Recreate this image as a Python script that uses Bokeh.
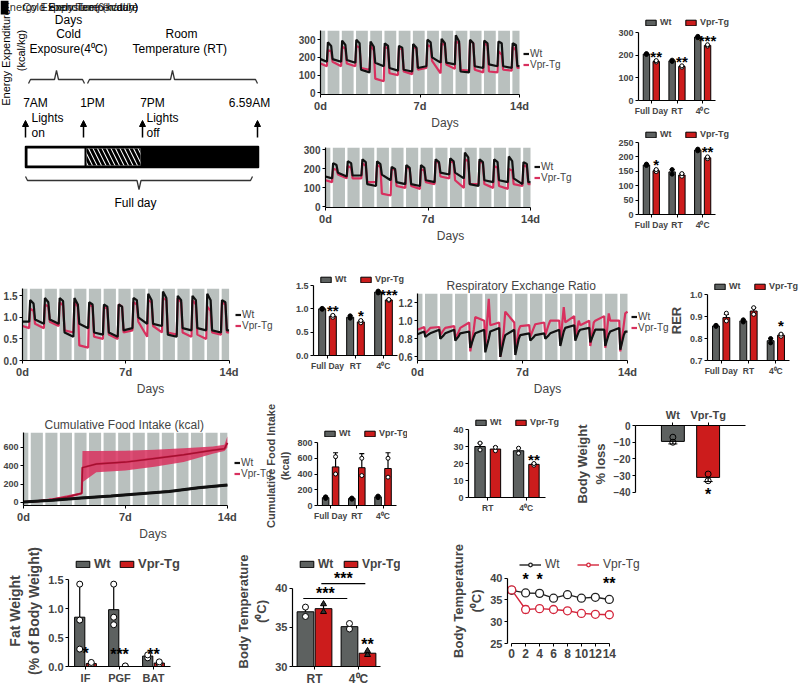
import numpy as np
from bokeh.plotting import figure
from bokeh.models import (ColumnDataSource, FactorRange, Range1d, Legend, LegendItem,
                          Whisker, TeeHead, Arrow, NormalHead, InlineStyleSheet,
                          PrintfTickFormatter)
from bokeh.transform import dodge
from bokeh.core.properties import value
from bokeh.embed import file_html
from bokeh.resources import INLINE

FONT = "Liberation Sans"
GRAY = "#5d6160"
RED = "#cc1c1c"
TSRED = "#d8305e"
BAND = "#b9c0be"
C4 = "4\u2070C"

# ---------------- data ----------------
DAYS = list(range(14))
PHASES = [0.45, 0.52, 0.75, 0.85]          # pre-rise, peak, late-dark, back to baseline
T = [0.0] + [d + f for d in DAYS for f in PHASES] + [14.0]

ee1_wt = [190,
          175, 285, 265, 190, 175, 295, 270, 185, 170, 300, 280, 130, 115, 290, 260, 170,
          150, 280, 265, 140, 125, 265, 255, 130, 120, 275, 255, 140, 150, 300, 285, 200,
          170, 305, 280, 170, 160, 325, 290, 120, 115, 300, 280, 150, 140, 295, 280, 160,
          150, 290, 280, 150, 140, 280, 270, 150,
          150]
ee1_vpr = [165,
           150, 240, 235, 175, 150, 260, 250, 165, 150, 265, 255, 140, 130, 270, 240, 80,
           65, 260, 250, 110, 100, 255, 245, 120, 105, 260, 250, 130, 140, 270, 260, 180,
           110, 280, 270, 160, 135, 290, 280, 130, 125, 295, 280, 130, 115, 285, 265, 120,
           115, 235, 215, 130, 125, 260, 240, 140,
           140]
ee2_wt = [160,
          150, 230, 220, 180, 160, 240, 230, 165, 165, 250, 235, 120, 110, 240, 225, 170,
          140, 210, 200, 130, 120, 220, 205, 120, 110, 220, 205, 140, 130, 250, 235, 180,
          170, 255, 240, 180, 150, 285, 260, 120, 110, 250, 235, 140, 130, 250, 235, 140,
          130, 265, 240, 150, 120, 235, 225, 130,
          130]
ee2_vpr = [140,
           130, 200, 195, 170, 150, 215, 205, 150, 150, 230, 215, 130, 130, 220, 210, 70,
           60, 200, 195, 110, 100, 210, 200, 110, 95, 200, 190, 130, 120, 240, 230, 160,
           150, 245, 230, 140, 100, 250, 240, 120, 120, 240, 230, 120, 100, 215, 205, 110,
           95, 200, 190, 120, 110, 220, 210, 120,
           120]
ee3_wt = [0.9,
          0.9, 1.4, 1.32, 0.95, 0.85, 1.45, 1.35, 0.95, 0.85, 1.45, 1.38, 0.65, 0.55, 1.45, 1.3, 0.85,
          0.75, 1.35, 1.3, 0.65, 0.6, 1.3, 1.25, 0.65, 0.55, 1.3, 1.25, 0.7, 0.75, 1.45, 1.4, 1.0,
          0.85, 1.55, 1.4, 0.85, 0.8, 1.6, 1.45, 0.6, 0.55, 1.5, 1.4, 0.75, 0.7, 1.5, 1.4, 0.75,
          0.7, 1.55, 1.4, 0.7, 0.65, 1.4, 1.35, 0.7,
          0.7]
ee3_vpr = [0.8,
           0.75, 1.2, 1.15, 0.85, 0.75, 1.3, 1.25, 0.9, 0.8, 1.35, 1.28, 0.7, 0.65, 1.35, 1.25, 0.35,
           0.3, 1.3, 1.25, 0.55, 0.5, 1.25, 1.2, 0.6, 0.5, 1.3, 1.25, 0.65, 0.7, 1.35, 1.3, 0.9,
           0.55, 1.4, 1.35, 0.8, 0.65, 1.45, 1.4, 0.65, 0.6, 1.45, 1.35, 0.65, 0.55, 1.4, 1.3, 0.6,
           0.5, 1.25, 1.15, 0.65, 0.6, 1.35, 1.3, 0.65,
           0.65]
rer_wt = [0.85,
          0.88, 0.82, 0.85, 0.86, 0.90, 0.80, 0.84, 0.86, 0.90, 0.78, 0.83, 0.86, 0.88, 0.70, 0.82, 0.86,
          0.90, 0.65, 0.80, 0.88, 0.92, 0.60, 0.78, 0.84, 0.90, 0.62, 0.80, 0.84, 0.86, 0.78, 0.82, 0.84,
          0.86, 0.80, 0.84, 0.86, 0.90, 0.72, 0.88, 0.92, 0.95, 0.78, 0.88, 0.90, 0.92, 0.76, 0.86, 0.90,
          0.90, 0.72, 0.85, 0.88, 0.92, 0.68, 0.84, 0.88,
          0.88]
rer_vpr = [0.90,
           0.93, 0.86, 0.90, 0.92, 0.93, 0.84, 0.90, 0.92, 0.94, 0.80, 0.88, 0.92, 0.98, 0.66, 0.90, 1.04,
           1.00, 0.70, 1.24, 0.95, 0.98, 0.60, 0.88, 1.10, 0.98, 0.66, 0.90, 0.94, 0.95, 0.82, 0.92, 0.96,
           0.98, 0.84, 0.96, 1.00, 1.00, 0.74, 1.15, 0.98, 1.05, 0.80, 1.00, 0.95, 1.00, 0.72, 0.98, 1.00,
           1.05, 0.70, 1.08, 1.00, 1.00, 0.66, 0.95, 1.08,
           1.10]

food_t_wt = [0, 2, 4, 6, 8, 10, 12, 14]
food_wt = [5, 25, 50, 70, 95, 120, 160, 190]
food_t_vpr = [0, 1, 2, 3, 4.0, 4.05, 5, 7, 9, 11, 13, 13.8, 14]
food_vpr = [5, 15, 35, 60, 100, 380, 420, 440, 480, 520, 570, 585, 650]
food_vpr_hi = [8, 20, 45, 80, 110, 560, 560, 565, 575, 590, 610, 630, 720]
food_vpr_lo = [2, 10, 25, 45, 90, 220, 330, 350, 390, 440, 530, 560, 600]

CATS3 = ["Full Day", "RT", C4]
bar1_wt = [205, 175, 280]; bar1_vpr = [172, 150, 243]
bar1_wt_err = [3, 4, 3]; bar1_vpr_err = [4, 4, 3]
bar1_wt_pts = [[203, 207], [172, 178], [277, 283]]
bar1_vpr_pts = [[170, 176], [147, 153], [240, 246]]
bar1_stars = ["**", "**", "***"]

bar2_wt = [172, 148, 224]; bar2_vpr = [152, 137, 197]
bar2_wt_err = [3, 8, 3]; bar2_vpr_err = [4, 5, 3]
bar2_wt_pts = [[170, 175], [140, 156], [221, 227]]
bar2_vpr_pts = [[149, 156], [133, 142], [194, 200]]
bar2_stars = ["*", "", "**"]

bar3_wt = [1.0, 0.82, 1.36]; bar3_vpr = [0.84, 0.72, 1.19]
bar3_wt_err = [0.02, 0.03, 0.02]; bar3_vpr_err = [0.02, 0.03, 0.01]
bar3_wt_pts = [[0.99, 1.01], [0.80, 0.85], [1.34, 1.38]]
bar3_vpr_pts = [[0.82, 0.86], [0.70, 0.75], [1.18, 1.20]]
bar3_stars = ["**", "*", "***"]

rer_bar_wt = [0.857, 0.88, 0.79]; rer_bar_vpr = [0.895, 0.925, 0.815]
rer_bar_wt_err = [0.004, 0.005, 0.01]; rer_bar_vpr_err = [0.015, 0.015, 0.005]
rer_bar_wt_pts = [[0.855, 0.86], [0.875, 0.885], [0.78, 0.80]]
rer_bar_vpr_pts = [[0.88, 0.915], [0.91, 0.94], [0.81, 0.82]]
rer_bar_stars = ["", "", "*"]

food_bar_wt = [100, 90, 110]; food_bar_vpr = [490, 480, 470]
food_bar_wt_err = [15, 10, 15]; food_bar_vpr_err = [180, 180, 200]
food_bar_wt_pts = [[90, 110], [80, 95], [100, 120]]
food_bar_vpr_pts = [[400, 620], [380, 600], [360, 600]]

CATS2 = ["RT", C4]
bw_wt = [30, 27.5]; bw_vpr = [28.5, 19.5]
bw_wt_err = [2, 1.5]; bw_vpr_err = [1.5, 0.5]
bw_wt_pts = [[28, 32], [26, 29]]
bw_vpr_pts = [[27.5, 29.5], [19, 20]]
bw_stars = ["", "**"]

LOSS_CATS = ["Wt", "Vpr-Tg"]
loss_vals = [-9.5, -31]
loss_err = [1.5, 2.5]
loss_pts = [[-7, -10], [-29, -33]]
loss_stars = ["", "*"]

FAT_CATS = ["IF", "PGF", "BAT"]
fat_wt = [0.85, 0.98, 0.18]; fat_vpr = [0.05, 0.0, 0.06]
fat_wt_err = [0.55, 0.42, 0.04]; fat_vpr_err = [0.02, 0.005, 0.02]
fat_wt_pts = [[1.42, 0.3, 0.8], [1.42, 0.72, 0.85], [0.15, 0.2]]
fat_vpr_pts = [[0.04, 0.07], [0.0, 0.01], [0.05, 0.08]]
fat_stars = ["*", "***", "**"]
fat_star_y = [0.22, 0.2, 0.2]

bt_wt = [37.0, 35.1]; bt_vpr = [37.4, 31.7]
bt_wt_err = [0.5, 0.4]; bt_vpr_err = [0.6, 0.25]
bt_wt_pts = [[36.4, 37.6], [34.8, 35.5]]
bt_vpr_pts = [[37.0, 38.0], [31.5, 32.0]]
bt_stars = ["", "**"]
bt_bracket_y = [38.7, 40.6]
bt_bracket_stars = ["***", "***"]

bt_day = [0, 2, 4, 6, 8, 10, 12, 14]
bt_line_wt = [37.2, 36.6, 36.5, 35.4, 36.2, 35.4, 35.6, 35.1]
bt_line_wt_err = [0.2, 0.5, 0.6, 0.2, 0.3, 0.2, 0.2, 0.3]
bt_line_vpr = [37.3, 32.8, 33.0, 32.8, 32.5, 31.9, 31.7, 31.6]
bt_line_vpr_err = [0.2, 0.8, 0.3, 0.3, 0.5, 0.3, 0.2, 0.3]
bt_line_stars = ["*", "*", "**"]
bt_line_star_days = [2, 4, 14]
bt_line_star_y = [39.6, 39.6, 38.8]

# light-cycle background columns
BAND_L = [0.0] + [d + 0.5 for d in DAYS]
BAND_R = [0.33] + [min(d + 1.33, 14.0) for d in DAYS]


# ---------------- helpers ----------------
def place(p, left, top):
    css = (":host { position: absolute !important; left: %dpx !important; top: %dpx !important; }"
           % (left, top))
    p.stylesheets = [InlineStyleSheet(css=css)]
    return p


def base_fig(box, borders, xr, yr, **kw):
    left, top, w, h = box
    bl, br, bt, bb = borders
    p = figure(width=w, height=h, x_range=xr, y_range=yr, output_backend="svg",
               toolbar_location=None, min_border_left=bl, min_border_right=br,
               min_border_top=bt, min_border_bottom=bb, **kw)
    p.outline_line_color = None
    p.grid.visible = False
    p.border_fill_color = None
    p.background_fill_color = None
    place(p, left, top)
    return p


def style_axes(p, tick_fs="9px", label_fs="11px", label_style="bold"):
    for ax in p.axis:
        ax.axis_line_color = "black"
        ax.axis_line_width = 1.2
        ax.major_tick_line_color = "black"
        ax.major_tick_out = 3
        ax.major_tick_in = 0
        ax.minor_tick_line_color = None
        ax.major_label_text_font = FONT
        ax.major_label_text_font_size = tick_fs
        ax.major_label_text_font_style = "bold"
        ax.major_label_standoff = 2
        ax.axis_label_text_font = FONT
        ax.axis_label_text_font_size = label_fs
        ax.axis_label_text_font_style = label_style
        ax.axis_label_standoff = 3


def make_legend(items, loc, orientation, gw, gh, fs, bold, spacing, standoff):
    return Legend(items=[LegendItem(label=lab, renderers=r) for lab, r in items],
                  location=loc, orientation=orientation, glyph_width=gw, glyph_height=gh,
                  label_standoff=standoff, label_height=gh, spacing=spacing, padding=0, margin=0,
                  border_line_color=None, background_fill_alpha=0,
                  label_text_font=FONT, label_text_font_size=fs,
                  label_text_font_style="bold" if bold else "normal")


def ts_panel(box, borders, yr, yticks, t_wt, wt, t_vpr, vpr, title=None, ytick_fs="10px",
             leg_w=50, yfmt=None, title_w=0):
    left, top, w, h = box
    bl, br, bt, bb = borders
    fw, fh = w - bl - br, h - bt - bb
    # the frame is widened to the right to hold the legend; the axis stays bounded at 14 d
    p = base_fig(box, (bl, br - leg_w, bt, bb), Range1d(0, 14.0 * (fw + leg_w) / fw), Range1d(*yr))
    p.quad(left=BAND_L, right=BAND_R, bottom=yr[0], top=yr[1], fill_color=BAND, line_color=None)
    rv = p.line(t_vpr, vpr, line_color=TSRED, line_width=2.2)
    rw = p.line(t_wt, wt, line_color="#111111", line_width=2.2)
    p.xaxis.ticker = [0, 7, 14]
    p.xaxis.bounds = (0, 14)
    p.xaxis.major_label_overrides = {0: "0d", 7: "7d", 14: "14d"}
    p.yaxis.ticker = yticks
    if yfmt:
        p.yaxis.formatter = PrintfTickFormatter(format=yfmt)
    p.xaxis.axis_label = "Days"
    style_axes(p, tick_fs=ytick_fs, label_fs="12px", label_style="normal")
    p.xaxis.major_label_text_font_size = "11px"
    p.xaxis.axis_label_standoff = 1
    p.add_layout(make_legend([("Wt", [rw]), ("Vpr-Tg", [rv])], (fw + 4, fh / 2 - 10),
                             "vertical", 6, 9, "10px", False, 0, 1), "center")
    if title:
        p.title.text = title
        p.title.align = "left"
        p.title.offset = (fw - title_w) / 2
        p.title.text_font = FONT
        p.title.text_font_size = "12px"
        p.title.text_font_style = "normal"
        p.title.standoff = 2
    return p


def bar_panel(box, borders, cats, wt, vpr, wt_err, vpr_err, wt_pts, vpr_pts,
              yr, yticks, off, bw, stars=None, star_dy=0.0, ylabel=None, tick_fs="9px",
              cat_fs="8.5px", label_fs="11px", legend_fs="9px", glyph_w=13, glyph_h=7,
              ybounds=None, wt_dot="circle", wt_dot_fill="black", vpr_dot="circle",
              vpr_dot_fill="white", dot_size=4, bar_bottom=0, star_fs="15px",
              leg_dx=6, leg_dy=2, leg_room=14, yfmt=None, ext=12):
    left, top, w, h = box
    bl, br, bt, bb = borders
    fw, fh = w - bl - br, h - bt - bb
    n = len(cats)
    xs = [i + 0.5 for i in range(n)]          # category slots on the numeric scale
    # frame enlarged (up and right) to hold the legend; axes stay bounded to the data part
    y_end = yr[1] + leg_room * (yr[1] - yr[0]) / fh
    p = base_fig(box, (bl, br - ext, bt - leg_room, bb),
                 Range1d(0, n * (fw + ext) / fw), Range1d(yr[0], y_end))
    src = ColumnDataSource(dict(
        x=xs, wt=wt, vpr=vpr,
        wlo=[a - e for a, e in zip(wt, wt_err)], whi=[a + e for a, e in zip(wt, wt_err)],
        vlo=[a - e for a, e in zip(vpr, vpr_err)], vhi=[a + e for a, e in zip(vpr, vpr_err)]))
    rw = p.vbar(x=dodge("x", -off), top="wt", bottom=bar_bottom, width=bw,
                source=src, fill_color=GRAY, line_color="black", line_width=1)
    rv = p.vbar(x=dodge("x", off), top="vpr", bottom=bar_bottom, width=bw,
                source=src, fill_color=RED, line_color="black", line_width=1)
    for o, lo, hi in ((-off, "wlo", "whi"), (off, "vlo", "vhi")):
        p.add_layout(Whisker(base=dodge("x", o), lower=lo, upper=hi, source=src,
                             line_color="black", line_width=1.2,
                             upper_head=TeeHead(size=5, line_color="black", line_width=1.2),
                             lower_head=TeeHead(size=5, line_color="black", line_width=1.2)))
    for pts, o, mk, fill in ((wt_pts, -off, wt_dot, wt_dot_fill), (vpr_pts, off, vpr_dot, vpr_dot_fill)):
        px = [xs[i] for i, ps in enumerate(pts) for _ in ps]
        pv = [v for ps in pts for v in ps]
        p.scatter(x=dodge("x", o), y="v", source=ColumnDataSource(dict(x=px, v=pv)),
                  marker=mk, size=dot_size, fill_color=fill, line_color="black", line_width=1)
    if stars:
        sy = [max(hi_, max(ps)) + star_dy for hi_, ps in
              zip([a + e for a, e in zip(vpr, vpr_err)], vpr_pts)]
        p.text(x=dodge("x", off), y="sy", text="st",
               source=ColumnDataSource(dict(x=xs, sy=sy, st=stars)),
               text_font=value(FONT), text_font_size=star_fs, text_font_style="bold",
               text_align="center", text_baseline="middle", text_color="black")
    p.xaxis.ticker = xs
    p.xaxis.major_label_overrides = {x: c for x, c in zip(xs, cats)}
    p.xaxis.bounds = (0, n)
    p.yaxis.ticker = yticks
    p.yaxis.bounds = ybounds if ybounds else (yr[0], yr[1])
    if yfmt:
        p.yaxis.formatter = PrintfTickFormatter(format=yfmt)
    style_axes(p, tick_fs=tick_fs, label_fs=label_fs)
    p.xaxis.major_label_text_font_size = cat_fs
    p.xaxis.major_label_text_font_style = "bold"
    if ylabel:
        p.yaxis.axis_label = ylabel
    p.add_layout(make_legend([("Wt", [rw]), ("Vpr-Tg", [rv])], (leg_dx, fh + leg_dy), "horizontal",
                             glyph_w, glyph_h, legend_fs, True, 4, 3), "center")
    return p, xs


# ---------------- schematic (top-left) ----------------
def schematic():
    p = figure(width=270, height=245, x_range=Range1d(0, 270), y_range=Range1d(245, 0),
               output_backend="svg", toolbar_location=None, x_axis_type=None, y_axis_type=None,
               min_border_left=0, min_border_right=0, min_border_top=0, min_border_bottom=0)
    p.outline_line_color = None
    p.grid.visible = False
    p.border_fill_color = None
    p.background_fill_color = None
    place(p, 0, 0)
    # overlapping stray labels
    p.quad(left=0, right=8, top=0, bottom=14, fill_color="black", line_color=None)
    p.text(x=[2, 22, 48], y=[6, 6, 6],
           text=["Energy Expenditure (kcal/h)", "Cold Exposure(6 h/day)", "Body Temperature"],
           text_font=value(FONT), text_font_size="11px", text_baseline="middle", text_alpha=0.85)
    p.text(x=[68], y=[19], text=["Days"], text_font=value(FONT), text_font_size="12px",
           text_align="center", text_baseline="middle")
    p.text(x=[5, 20], y=[57, 50], text=["Energy Expenditure", "(kcal/kg)"], angle=np.pi / 2,
           text_font=value(FONT), text_font_size="11px", text_align="center", text_baseline="middle")
    # labels
    p.text(x=[68, 68, 181, 181], y=[33, 48, 33, 48],
           text=["Cold", "Exposure(" + C4 + ")", "Room", "Temperature  (RT)"],
           text_font=value(FONT), text_font_size="12px", text_align="center", text_baseline="middle")
    p.text(x=[35, 92, 152, 249], y=[102, 102, 102, 102], text=["7AM", "1PM", "7PM", "6.59AM"],
           text_font=value(FONT), text_font_size="12px", text_align="center", text_baseline="middle")
    p.text(x=[31, 31, 146, 146], y=[117, 132, 117, 132], text=["Lights", "on", "Lights", "off"],
           text_font=value(FONT), text_font_size="12px", text_baseline="middle")
    p.text(x=[135], y=[202], text=["Full day"], text_font=value(FONT), text_font_size="12px",
           text_align="center", text_baseline="middle")

    def brace(x0, x1, yb, d):
        xc = (x0 + x1) / 2
        return ([x0, x0 + 2, xc - 2, xc, xc + 2, x1 - 2, x1],
                [yb + 4 * d, yb, yb, yb - 9 * d, yb, yb, yb + 4 * d])
    b1, b2, b3 = brace(28, 84, 79, 1), brace(87, 257, 79, 1), brace(25, 252, 180, -1)
    p.multi_line(xs=[b1[0], b2[0], b3[0]], ys=[b1[1], b2[1], b3[1]], line_color="#333333",
                 line_width=1.3)
    for xa in (25, 83, 142, 257):
        p.add_layout(Arrow(x_start=xa, y_start=137, x_end=xa, y_end=120, line_width=1.5,
                           end=NormalHead(size=6, fill_color="black", line_color="black")))
    p.quad(left=25, right=258, top=146, bottom=167, fill_color="black", line_color="black",
           line_width=1.5)
    p.quad(left=27, right=84, top=148, bottom=165, fill_color="white", line_color=None)
    p.quad(left=86, right=140, top=148, bottom=165, fill_color="white", line_color=None,
           hatch_pattern="\\", hatch_color="black", hatch_scale=9, hatch_weight=3)
    return p


# ---------------- panels ----------------
schem = schematic()
ts1 = ts_panel((270, 0, 305, 132), (50, 56, 30, 33), (-10, 352), [0, 100, 200, 300],
               T, ee1_wt, T, ee1_vpr)
ts2 = ts_panel((270, 132, 305, 113), (55, 45, 15, 29), (-3, 312), [0, 100, 200, 300],
               T, ee2_wt, T, ee2_vpr, leg_w=45)
bar1, _ = bar_panel((575, 0, 223, 125), (63, 83, 32, 25), CATS3, bar1_wt, bar1_vpr, bar1_wt_err,
                    bar1_vpr_err, bar1_wt_pts, bar1_vpr_pts, (0, 300), [0, 100, 200, 300], 0.19,
                    0.25, stars=bar1_stars, star_dy=18, leg_dy=5, leg_room=18, ext=18)
bar2, _ = bar_panel((575, 125, 223, 120), (63, 83, 17, 31), CATS3, bar2_wt, bar2_vpr, bar2_wt_err,
                    bar2_vpr_err, bar2_wt_pts, bar2_vpr_pts, (0, 250), [0, 50, 100, 150, 200, 250],
                    0.19, 0.25, stars=bar2_stars, star_dy=18, leg_dy=3, leg_room=15, ext=18)

ts3 = ts_panel((0, 245, 290, 153), (19, 62, 43, 32), (0, 1.67), [0, 0.5, 1.0, 1.5],
               T, ee3_wt, T, ee3_vpr, yfmt="%.1f")
bar3, _ = bar_panel((290, 245, 120, 153), (23, 13, 40, 43), CATS3, bar3_wt, bar3_vpr, bar3_wt_err,
                    bar3_vpr_err, bar3_wt_pts, bar3_vpr_pts, (0, 1.5), [0, 0.5, 1.0, 1.5], 0.19,
                    0.25, stars=bar3_stars, star_dy=0.1, leg_dy=1, leg_room=13, yfmt="%.1f",
                    ext=12)
rer = ts_panel((395, 245, 285, 153), (22, 53, 48, 31), (0.56, 1.3), [0.6, 0.8, 1.0, 1.2],
               T, rer_wt, T, rer_vpr, title="Respiratory  Exchange  Ratio", yfmt="%.1f",
               title_w=152)
rerbar, _ = bar_panel((665, 245, 135, 153), (42, 11, 49, 38), CATS3, rer_bar_wt, rer_bar_vpr,
                      rer_bar_wt_err, rer_bar_vpr_err, rer_bar_wt_pts, rer_bar_vpr_pts, (0.7, 1.0),
                      [0.7, 0.8, 0.9, 1.0], 0.19, 0.25, stars=rer_bar_stars, star_dy=0.04,
                      ylabel="RER", label_fs="13px", leg_dx=6, leg_dy=3, leg_room=14,
                      yfmt="%.1f", ext=11)

food = ts_panel((0, 398, 285, 162), (19, 59, 34, 55), (-33, 763), [0, 200, 400, 600],
                food_t_wt, food_wt, food_t_vpr, food_vpr,
                title="Cumulative  Food  Intake (kcal)", ytick_fs="9px", title_w=165, leg_w=56)
food.varea(x=food_t_vpr, y1=food_vpr_lo, y2=food_vpr_hi, fill_color=TSRED, fill_alpha=0.85)
food.line(food_t_vpr, food_vpr, line_color="#a3102f", line_width=1.5)
food.line(food_t_wt, food_wt, line_color="#111111", line_width=3)

foodbar, _ = bar_panel((262, 398, 145, 162), (50, 12, 44, 55), CATS3, food_bar_wt, food_bar_vpr,
                       food_bar_wt_err, food_bar_vpr_err, food_bar_wt_pts, food_bar_vpr_pts,
                       (0, 800), [0, 200, 400, 600, 800], 0.19, 0.25,
                       ylabel="Cumulative Food Intake\n(kcal)", label_fs="11px", leg_dy=4,
                       leg_room=16, ext=12)
bw, _ = bar_panel((400, 398, 170, 162), (68, 25, 31, 63), CATS2, bw_wt, bw_vpr, bw_wt_err,
                  bw_vpr_err, bw_wt_pts, bw_vpr_pts, (0, 40), [0, 10, 20, 30, 40], 0.2, 0.27,
                  stars=bw_stars, star_dy=2.5, wt_dot_fill="white", leg_dy=2, leg_room=14,
                  ext=14)

# body weight % loss
loss = base_fig((565, 398, 233, 162), (70, 53, 27, 58),
                FactorRange(*LOSS_CATS, range_padding=0.56, range_padding_units="absolute"),
                Range1d(-46, 0), x_axis_location="above")
lsrc = ColumnDataSource(dict(cat=LOSS_CATS, val=loss_vals,
                             lo=[a - e for a, e in zip(loss_vals, loss_err)],
                             hi=[a + e for a, e in zip(loss_vals, loss_err)],
                             col=[GRAY, RED], st=loss_stars,
                             sy=[a - e - 8 for a, e in zip(loss_vals, loss_err)]))
loss.vbar(x="cat", top=0, bottom="val", width=0.65, source=lsrc, fill_color="col",
          line_color="black", line_width=1)
loss.add_layout(Whisker(base="cat", lower="lo", upper="hi", source=lsrc, line_color="black",
                        line_width=1.2, upper_head=TeeHead(size=9, line_color="black"),
                        lower_head=TeeHead(size=9, line_color="black")))
lc = [c for c, ps in zip(LOSS_CATS, loss_pts) for _ in ps]
lv = [v for ps in loss_pts for v in ps]
loss.scatter(x="c", y="v", source=ColumnDataSource(dict(c=lc, v=lv)), marker="circle", size=6,
             fill_color="white", fill_alpha=0, line_color="black")
loss.text(x="cat", y="sy", text="st", source=lsrc, text_font=value(FONT), text_font_size="16px",
          text_font_style="bold", text_align="center", text_baseline="middle")
loss.yaxis.ticker = [0, -10, -20, -30, -40]
loss.yaxis.bounds = (-40, 0)
loss.yaxis.axis_label = "Body Weight\n% loss"
style_axes(loss, tick_fs="10px", label_fs="13px")
loss.xaxis.major_label_text_font_size = "11px"

fat, fat_x = bar_panel((0, 540, 232, 150), (68, 62, 39, 24), FAT_CATS, fat_wt, fat_vpr,
                       fat_wt_err, fat_vpr_err, fat_wt_pts, fat_vpr_pts, (0, 1.5),
                       [0, 0.5, 1.0, 1.5], 0.17, 0.3,
                       ylabel="Fat Weight\n(% of Body Weight)", tick_fs="11px", cat_fs="11px",
                       label_fs="14px", legend_fs="13px", glyph_w=17, glyph_h=8,
                       wt_dot_fill="white", dot_size=6, leg_dy=8, leg_room=24, yfmt="%.1f",
                       ext=20)
fat.text(x=fat_x, y=fat_star_y, text=fat_stars, text_font=value(FONT), text_font_size="16px",
         text_font_style="bold", text_align="center", text_baseline="middle")

btbar, bt_x = bar_panel((225, 540, 215, 150), (67, 60, 33, 24), CATS2, bt_wt, bt_vpr, bt_wt_err,
                        bt_vpr_err, bt_wt_pts, bt_vpr_pts, (30, 41.9), [30, 35, 40], 0.205, 0.38,
                        stars=bt_stars, star_dy=0.8, ylabel="Body Temperature\n(\u2070C)",
                        tick_fs="11px", cat_fs="12px", label_fs="13px", legend_fs="12px",
                        glyph_w=17, glyph_h=8, ybounds=(30, 40), wt_dot_fill="white",
                        vpr_dot="triangle", vpr_dot_fill="#333333", dot_size=6, bar_bottom=30,
                        star_fs="16px", leg_dx=6, leg_dy=2, leg_room=17, ext=20)
# significance brackets: Wt RT vs Wt 4C (lower), Vpr RT vs Vpr 4C (upper)
BRK_OFF = [-0.255, 0.155]
bsrc = ColumnDataSource(dict(x0=[bt_x[0] + o for o in BRK_OFF], x1=[bt_x[1] + o for o in BRK_OFF],
                             xm=[(bt_x[0] + bt_x[1]) / 2 + o for o in BRK_OFF],
                             y=bt_bracket_y, sy=[y + 0.6 for y in bt_bracket_y],
                             st=bt_bracket_stars))
btbar.segment(x0="x0", x1="x1", y0="y", y1="y", source=bsrc, line_color="black", line_width=1.2)
btbar.text(x="xm", y="sy", text="st", source=bsrc, text_font=value(FONT), text_font_size="16px",
           text_font_style="bold", text_align="center", text_baseline="middle")

# body temperature over time
BTL_BOX, BTL_BORD, BTL_LEG, BTL_EXT = (440, 540, 358, 150), (67, 185, 35, 47), 17, 50
btl_fw = BTL_BOX[2] - BTL_BORD[0] - BTL_BORD[1]
btl_fh = BTL_BOX[3] - BTL_BORD[2] - BTL_BORD[3]
btl_xr, btl_yr = (-0.6, 14.6), (25, 40.6)
btline = base_fig(BTL_BOX, (BTL_BORD[0], BTL_BORD[1] - BTL_EXT, BTL_BORD[2] - BTL_LEG, BTL_BORD[3]),
                  Range1d(btl_xr[0], btl_xr[1] + BTL_EXT * (btl_xr[1] - btl_xr[0]) / btl_fw),
                  Range1d(btl_yr[0], btl_yr[1] + BTL_LEG * (btl_yr[1] - btl_yr[0]) / btl_fh))
lsw = ColumnDataSource(dict(x=bt_day, y=bt_line_wt,
                            lo=[a - e for a, e in zip(bt_line_wt, bt_line_wt_err)],
                            hi=[a + e for a, e in zip(bt_line_wt, bt_line_wt_err)]))
lsv = ColumnDataSource(dict(x=bt_day, y=bt_line_vpr,
                            lo=[a - e for a, e in zip(bt_line_vpr, bt_line_vpr_err)],
                            hi=[a + e for a, e in zip(bt_line_vpr, bt_line_vpr_err)]))
LRED = "#d4263c"
lw_line = btline.line("x", "y", source=lsw, line_color="#222222", line_width=1.4)
lv_line = btline.line("x", "y", source=lsv, line_color=LRED, line_width=1.4)
for s, c in ((lsw, "#222222"), (lsv, LRED)):
    btline.add_layout(Whisker(base="x", lower="lo", upper="hi", source=s, line_color=c,
                              upper_head=TeeHead(size=6, line_color=c),
                              lower_head=TeeHead(size=6, line_color=c)))
lw_pts = btline.scatter("x", "y", source=lsw, marker="circle", size=8, fill_color="white",
                        line_color="#222222", line_width=1.3)
lv_pts = btline.scatter("x", "y", source=lsv, marker="circle", size=8, fill_color="white",
                        line_color=LRED, line_width=1.3)
btline.text(x=bt_line_star_days, y=bt_line_star_y, text=bt_line_stars, text_font=value(FONT),
            text_font_size="16px", text_font_style="bold", text_align="center",
            text_baseline="middle")
btline.xaxis.ticker = bt_day
btline.yaxis.ticker = [25, 30, 35, 40]
btline.xaxis.bounds = (0, 14)
btline.yaxis.bounds = (25, 40)
btline.yaxis.axis_label = "Body Temperature\n(\u2070C)"
style_axes(btline, tick_fs="11px", label_fs="13px")
btline.xaxis.major_label_text_font_size = "12px"
btline.add_layout(make_legend([("Wt", [lw_line, lw_pts]), ("Vpr-Tg", [lv_line, lv_pts])],
                              (12, btl_fh + 4), "horizontal", 22, 9, "12px", False, 12, 4),
                  "center")

figs = [schem, ts1, ts2, bar1, bar2, ts3, bar3, rer, rerbar, food, foodbar, bw, loss,
        fat, btbar, btline]
open("out.html", "w").write(file_html(figs, INLINE))
